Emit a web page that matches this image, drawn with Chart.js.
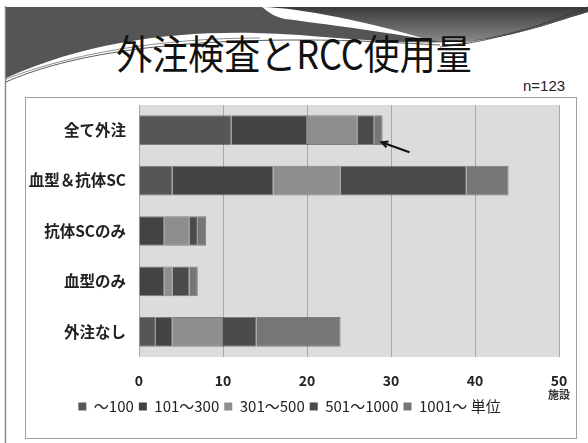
<!DOCTYPE html>
<html>
<head>
<meta charset="utf-8">
<script src="https://cdn.jsdelivr.net/npm/chart.js@4"></script>
<style>
  body { margin: 0; background: #fff; }
  #slide { position: relative; width: 588px; height: 443px; overflow: hidden; background: #fff; }
  #deco { position: absolute; left: 0; top: 0; }
  #title { position: absolute; left: 0; width: 588px; top: 32px; text-align: center;
           font-family: "Noto Sans CJK JP"; font-size: 40px; color: #111; line-height: 1;
           transform: scaleX(0.9); transform-origin: 294px 0; white-space: nowrap; }
  #n { position: absolute; left: 523px; top: 77px; font-family: "Liberation Sans"; font-size: 15px; color: #222; }
  #box { position: absolute; left: 25px; top: 97px; width: 550px; height: 340px; border: 1.5px solid #a0a0a0; background: #fff; }
  #chartBox { position: absolute; left: 0; top: 0; width: 588px; height: 443px; }
</style>
</head>
<body>
<div id="slide">
  <svg id="deco" width="588" height="443">
    <defs>
      <linearGradient id="g" x1="0" y1="0" x2="0" y2="1">
        <stop offset="0" stop-color="#3a3a3a"/>
        <stop offset="1" stop-color="#8a8a8a"/>
      </linearGradient>
    </defs>
    <line x1="5.5" y1="6" x2="5.5" y2="443" stroke="#8a8a8a" stroke-width="1.5"/>
    <path d="M6,7 H588 V12 C560,20 520,36 470,41 C420,45 360,40 300,35 C200,28 100,36 6,78 Z" fill="#555"/>
    <path d="M262,7 H588 V12 C560,20 520,36 470,41 C450,43 440,42 425,39 C370,22 300,8 262,7 Z" fill="url(#g)"/>
    <path d="M262,7 C300,8 370,22 425,39 C370,30 310,22 285,19 C275,17 268,12 262,7 Z" fill="#fff"/>
    <path d="M6,82 C60,58 150,40 300,40 C360,40 400,43 440,45" fill="none" stroke="#333" stroke-width="0.8"/>
    <path d="M6,79 C70,54 160,38 260,38" fill="none" stroke="#444" stroke-width="0.6"/>
    <path d="M440,47 C500,41 550,22 588,7" fill="none" stroke="#333" stroke-width="0.8"/>
    <path d="M450,45 C510,36 560,19 588,11" fill="none" stroke="#444" stroke-width="0.6"/>
  </svg>
  <div id="title">外注検査とRCC使用量</div>
  <div id="n">n=123</div>
  <div id="box"></div>
  <div id="chartBox"><canvas id="myChart"></canvas></div>
</div>
<script>
var categories = ["全て外注", "血型＆抗体SC", "抗体SCのみ", "血型のみ", "外注なし"];
var seriesNames = ["～100", "101～300", "301～500", "501～1000", "1001～"];
var upTo100 = [11, 4, 0, 0, 2];
var from101to300 = [9, 12, 3, 3, 2];
var from301to500 = [6, 8, 3, 1, 6];
var from501to1000 = [2, 15, 1, 2, 4];
var over1000 = [1, 5, 1, 1, 10];
var xTicks = [0, 10, 20, 30, 40, 50];
var unitLabel = "施設";
var legendUnit = "単位";

var colors = ["#565656", "#434343", "#8e8e8e", "#4b4b4b", "#767676"];
var values = [upTo100, from101to300, from301to500, from501to1000, over1000];

var datasets = [];
for (var i = 0; i < seriesNames.length; i++) {
    datasets.push({
        label: seriesNames[i],
        data: values[i],
        backgroundColor: colors[i],
        borderColor: "rgba(50,50,50,0.55)",
        borderWidth: 1,
        barPercentage: 0.59,
        categoryPercentage: 1
    });
}

// plot background, unit text and the arrow
var extras = {
    id: "extras",
    beforeDraw: function(chart) {
        var a = chart.chartArea, ctx = chart.ctx;
        ctx.save();
        ctx.fillStyle = "#dcdcdc";
        ctx.fillRect(a.left, a.top, a.right - a.left, a.bottom - a.top);
        ctx.restore();
    },
    afterDraw: function(chart) {
        var ctx = chart.ctx;
        var x = chart.scales.x, y = chart.scales.y;
        ctx.save();
        ctx.fillStyle = "#333";
        ctx.font = "bold 11px 'Noto Sans CJK JP'";
        ctx.textAlign = "center";
        ctx.textBaseline = "middle";
        ctx.fillText(unitLabel, x.getPixelForValue(xTicks[xTicks.length - 1]), 395);

        var total = 0;
        for (var i = 0; i < values.length; i++) total += values[i][0];
        var tipX = x.getPixelForValue(total) - 1;
        var tipY = y.getPixelForValue(0) + 12;
        var tailX = x.getPixelForValue(total + 3.2);
        var tailY = tipY + 10;
        ctx.strokeStyle = "#111";
        ctx.lineWidth = 2;
        ctx.beginPath();
        ctx.moveTo(tailX, tailY);
        ctx.lineTo(tipX, tipY);
        ctx.stroke();
        var ang = Math.atan2(tipY - tailY, tipX - tailX);
        ctx.beginPath();
        ctx.moveTo(tipX - 7 * Math.cos(ang - 0.45), tipY - 7 * Math.sin(ang - 0.45));
        ctx.lineTo(tipX, tipY);
        ctx.lineTo(tipX - 7 * Math.cos(ang + 0.45), tipY - 7 * Math.sin(ang + 0.45));
        ctx.stroke();
        ctx.restore();
    }
};

const config = {
    type: "bar",
    data: { labels: categories, datasets: datasets },
    options: {
        indexAxis: "y",
        responsive: true,
        maintainAspectRatio: false,
        animation: false,
        layout: { padding: { top: 105, left: 20, right: 29, bottom: 19 } },
        scales: {
            x: {
                stacked: true,
                min: 0,
                max: 50,
                afterBuildTicks: function(s) { s.ticks = xTicks.map(function(v) { return { value: v }; }); },
                afterFit: function(s) { s.height = 37; },
                grid: { color: "#a8a8a8", drawTicks: false },
                border: { display: false },
                ticks: { padding: 15, color: "#222", font: { family: "Noto Sans CJK JP", size: 14, weight: "bold" } }
            },
            y: {
                stacked: true,
                afterFit: function(s) { s.width = 119; },
                grid: { display: false, drawTicks: false },
                border: { display: false },
                ticks: { padding: 13, color: "#222", font: { family: "Noto Sans CJK JP", size: 15.5, weight: "bold" } }
            }
        },
        plugins: {
            tooltip: { enabled: false },
            legend: {
                position: "bottom",
                labels: {
                    boxWidth: 8,
                    boxHeight: 8,
                    padding: 5,
                    color: "#222",
                    font: { family: "Noto Sans CJK JP", size: 15 },
                    generateLabels: function(chart) {
                        var items = Chart.defaults.plugins.legend.labels.generateLabels(chart);
                        items[items.length - 1].text += " " + legendUnit;
                        items.forEach(function(it) { it.lineWidth = 0; });
                        return items;
                    }
                }
            }
        }
    },
    plugins: [extras]
};

const myChart = new Chart(document.getElementById("myChart"), config);
</script>
</body>
</html>
